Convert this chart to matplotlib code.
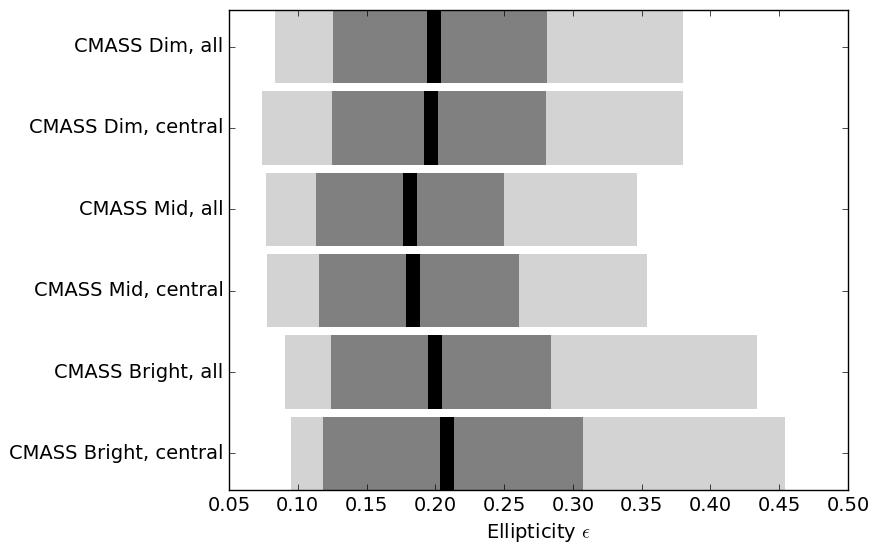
import matplotlib
matplotlib.use("Agg")
import matplotlib.pyplot as plt
import numpy as np

plt.style.use('classic')

labels = ["CMASS Dim, all", "CMASS Dim, central", "CMASS Mid, all",
          "CMASS Mid, central", "CMASS Bright, all", "CMASS Bright, central"]
low = [0.0834, 0.0740, 0.0769, 0.0776, 0.0907, 0.0951]
q1 = [0.1256, 0.1249, 0.1132, 0.1154, 0.1241, 0.1183]
median = [0.1990, 0.1968, 0.1816, 0.1841, 0.1998, 0.2085]
q3 = [0.2812, 0.2804, 0.2499, 0.2608, 0.2841, 0.3073]
high = [0.3800, 0.3800, 0.3466, 0.3539, 0.4338, 0.4542]

fig = plt.figure(figsize=(8.78, 5.54), dpi=100, facecolor='white')
ax = fig.add_axes([229/878, 64/554, 619/878, 480/554])

y = np.arange(len(labels))[::-1]
h = 0.9
low_a, q1_a, med_a, q3_a, high_a = map(np.array, (low, q1, median, q3, high))
ax.barh(y, high_a - low_a, left=low_a, height=h, color='lightgrey', edgecolor='none', align='center')
ax.barh(y, q3_a - q1_a, left=q1_a, height=h, color='grey', edgecolor='none', align='center')
mw = 0.0102
ax.barh(y, mw, left=med_a - mw/2, height=h, color='black', edgecolor='none', align='center')

ax.set_xlim(0.05, 0.50)
ax.set_ylim(-0.45, 5.45)
ax.set_yticks(y)
ax.set_yticklabels(labels, fontsize=14)
ax.set_xticks(np.arange(0.05, 0.5001, 0.05))
ax.set_xticklabels(["%.2f" % v for v in np.arange(0.05, 0.5001, 0.05)], fontsize=14)
ax.set_xlabel(r"Ellipticity $\epsilon$", fontsize=14)

fig.savefig("out.png", dpi=100, facecolor='white')
